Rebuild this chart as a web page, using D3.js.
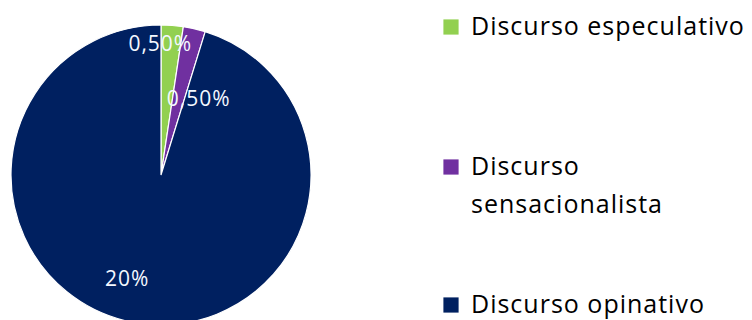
<!DOCTYPE html>
<html>
<head>
<meta charset="utf-8">
<script src="https://cdn.jsdelivr.net/npm/d3@7"></script>
<style>
  html, body { margin: 0; padding: 0; background: #fff; }
  svg { display: block; }
</style>
</head>
<body>
<script>
// Categories and their values (percent)
const categories = ["Discurso especulativo", "Discurso sensacionalista", "Discurso opinativo"];
const values = [0.5, 0.5, 20];
const valueLabels = ["0,50%", "0,50%", "20%"];
const legendLines = [["Discurso especulativo"], ["Discurso", "sensacionalista"], ["Discurso opinativo"]];
const colors = ["#92D050", "#7030A0", "#002060"];

const width = 752, height = 320;
const cx = 161, cy = 175, radius = 150;
const font = "'Open Sans', 'Noto Sans', sans-serif";

const svg = d3.select("body").append("svg")
  .attr("width", width).attr("height", height);

const color = d3.scaleOrdinal().domain(categories).range(colors);

const pie = d3.pie().sort(null).value((d, i) => values[i]);
const arcs = pie(categories);
const arc = d3.arc().innerRadius(0).outerRadius(radius);

const g = svg.append("g").attr("transform", `translate(${cx},${cy})`);

g.selectAll("path.slice")
  .data(arcs)
  .join("path")
  .attr("class", "slice")
  .attr("d", arc)
  .attr("fill", d => color(d.data))
  .attr("stroke", "#ffffff")
  .attr("stroke-width", 1.2);

// Data labels: placed along each slice, with small per-slice nudges
const labelRadius = [132, 86, 108];
const labelAngleShift = [-0.08, 0.23, 0.17];
g.selectAll("text.value")
  .data(arcs)
  .join("text")
  .attr("class", "value")
  .attr("x", (d, i) => {
    const a = (d.startAngle + d.endAngle) / 2 + labelAngleShift[i];
    return Math.sin(a) * labelRadius[i];
  })
  .attr("y", (d, i) => {
    const a = (d.startAngle + d.endAngle) / 2 + labelAngleShift[i];
    return -Math.cos(a) * labelRadius[i];
  })
  .attr("text-anchor", "middle")
  .attr("dominant-baseline", "central")
  .attr("fill", "#f4f8ff")
  .style("font-family", font)
  .style("font-size", "21px")
  .style("letter-spacing", "1px")
  .text((d, i) => valueLabels[i]);

// Legend
const legendX = 443, legendTextX = 471;
const legendBaselines = [35, 175, 313];
const lineGap = 38;
const legend = svg.append("g");
categories.forEach((c, i) => {
  const base = legendBaselines[i];
  legend.append("rect")
    .attr("x", legendX).attr("y", base - 16)
    .attr("width", 16).attr("height", 16)
    .attr("fill", color(c))
    .attr("stroke", "#ffffff").attr("stroke-width", 0.8);
  legendLines[i].forEach((t, j) => {
    legend.append("text")
      .attr("x", legendTextX).attr("y", base + j * lineGap)
      .attr("fill", "#000000")
      .style("font-family", font)
      .style("font-size", "25px")
      .style("letter-spacing", "1px")
      .text(t);
  });
});
</script>
</body>
</html>
